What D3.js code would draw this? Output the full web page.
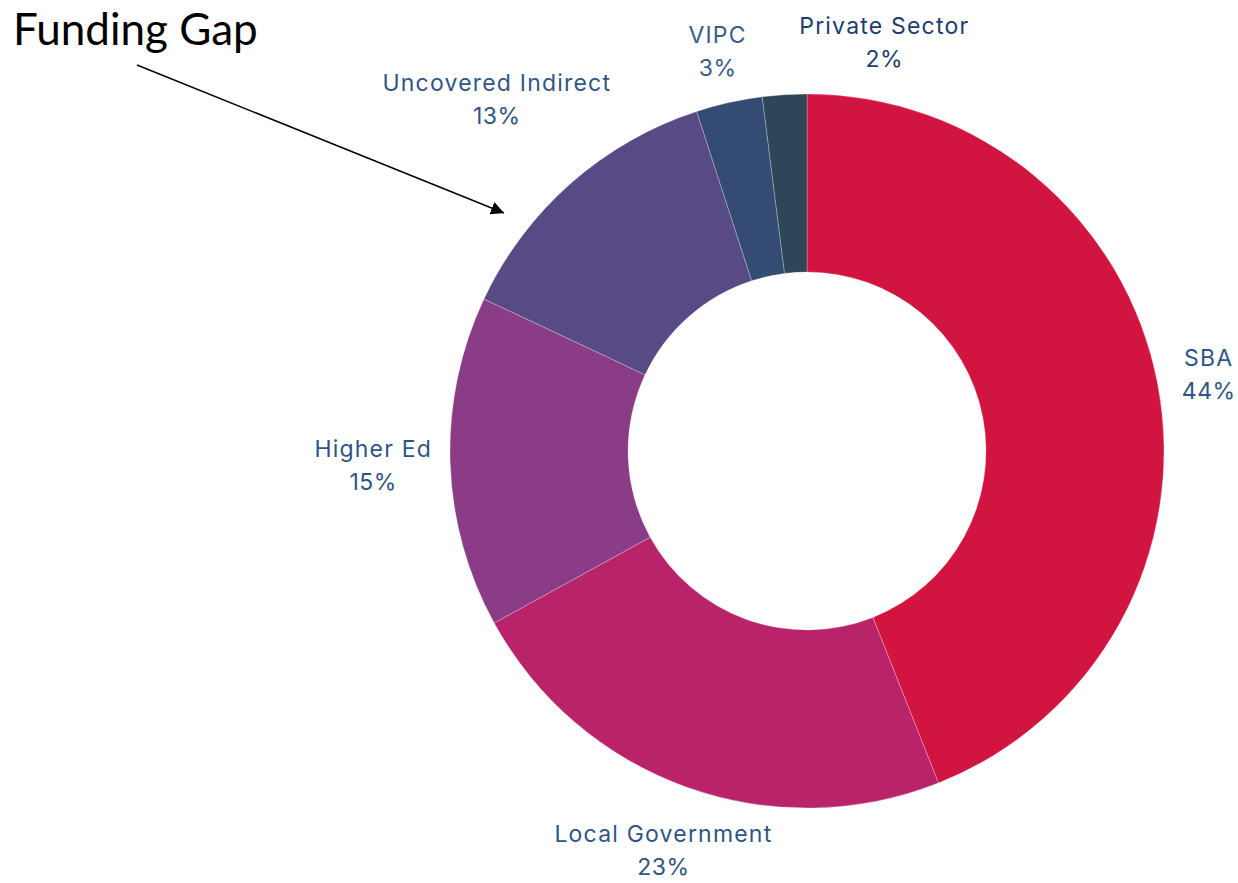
<!DOCTYPE html>
<html><head><meta charset="utf-8">
<script src="https://cdn.jsdelivr.net/npm/d3@7"></script>
<style>html,body{margin:0;padding:0;background:#fff;}</style>
</head><body>
<svg id="chart" width="1238" height="883"></svg>
<script>
const categories = ["SBA", "Local Government", "Higher Ed", "Uncovered Indirect", "VIPC", "Private Sector"];
const values = [44, 23, 15, 13, 3, 2];
const colors = ["#D21441", "#B8236A", "#8A3C86", "#574A85", "#344B74", "#2D4658"];
const labelColors = ["#2F5585", "#2F5585", "#2F5585", "#2F5585", "#3A5C88", "#1E3C6E"];
// layout: label radius and horizontal nudge per slice
const labelRadius = [409, 424, 434, 469, 410, 410];
const labelNudge = [0, 0, 0, 0, 0, 103];

const svg = d3.select("#chart");
const cx = 807, cy = 451, R = 357, r = 179;
const g = svg.append("g").attr("transform", `translate(${cx},${cy})`);

const pie = d3.pie().sort(null).value(d => d.v);
const data = categories.map((c, i) => ({c, v: values[i], i}));
const arcs = pie(data);
const arc = d3.arc().innerRadius(r).outerRadius(R);

g.selectAll("path").data(arcs).join("path")
  .attr("d", arc)
  .attr("fill", d => colors[d.data.i])
  .attr("stroke", "rgba(255,255,255,0.25)")
  .attr("stroke-width", 1);

const lbl = g.selectAll("g.lbl").data(arcs).join("g").attr("class", "lbl")
  .attr("transform", d => {
    const a = (d.startAngle + d.endAngle) / 2;
    const lr = labelRadius[d.data.i];
    return `translate(${lr * Math.sin(a) + labelNudge[d.data.i]},${-lr * Math.cos(a)})`;
  });
lbl.append("text").attr("text-anchor", "middle").attr("y", -16).attr("dy", "0.35em")
  .style("font-family", "Inter, sans-serif").style("font-size", "23px")
  .style("letter-spacing", "1.2px")
  .attr("fill", d => labelColors[d.data.i]).text(d => d.data.c);
lbl.append("text").attr("text-anchor", "middle").attr("y", 17).attr("dy", "0.35em")
  .style("font-family", "Inter, sans-serif").style("font-size", "23px")
  .style("letter-spacing", "0.5px")
  .attr("fill", d => labelColors[d.data.i]).text(d => d.data.v + "%");

// Annotation
svg.append("defs").append("marker").attr("id", "ah")
  .attr("viewBox", "0 0 10 10").attr("refX", 10).attr("refY", 5)
  .attr("markerWidth", 13).attr("markerHeight", 13).attr("markerUnits", "userSpaceOnUse")
  .attr("orient", "auto")
  .append("path").attr("d", "M0,0 L10,5 L0,10 Z").attr("fill", "#000");
svg.append("text").attr("x", 13).attr("y", 45)
  .style("font-family", "Lato, 'Open Sans', sans-serif").style("font-size", "44px")
  .attr("fill", "#000").text("Funding Gap");
svg.append("line").attr("x1", 137).attr("y1", 65).attr("x2", 504).attr("y2", 213)
  .attr("stroke", "#000").attr("stroke-width", 1.5).attr("marker-end", "url(#ah)");
</script>
</body></html>
